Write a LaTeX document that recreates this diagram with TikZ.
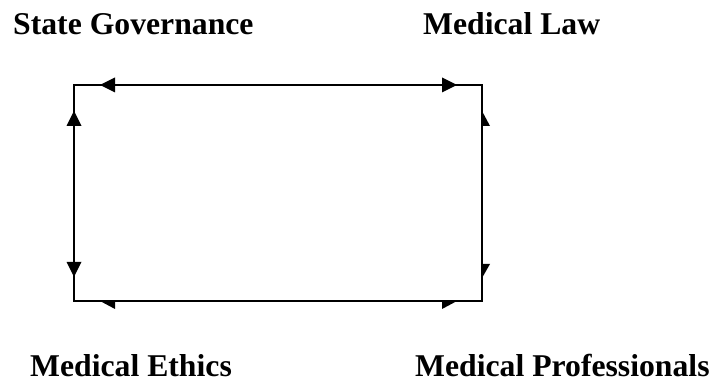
\documentclass[tikz,border=0pt]{standalone}
\usepackage{fontspec}
\setmainfont{Liberation Serif}
\begin{document}
\begin{tikzpicture}[x=1pt,y=1pt,
  lbl/.style={anchor=base west, inner sep=0pt, font=\fontsize{31.7}{36}\selectfont\bfseries},
  edge/.style={line width=2pt, line join=miter},
  head/.style={fill=black}]
\useasboundingbox (0,0) rectangle (713,383);
\node[lbl] (sg) at (13,348) {State Governance};
\node[lbl] (ml) at (423,348) {Medical Law};
\node[lbl] (me) at (30,6) {Medical Ethics};
\node[lbl] (mp) at (415,6) {Medical Professionals};
\coordinate (tl) at (74,298);
\coordinate (tr) at (482,298);
\coordinate (bl) at (74,82);
\coordinate (br) at (482,82);
\draw[edge] (tl) -- (tr) -- (br) -- (bl) -- cycle;
% top arrows
\fill[head, shift={(tl)}] (26,0) -- (41,7.5) -- (41,-7.5) -- cycle;
\fill[head, shift={(tr)}] (-25,0) -- (-40,7.5) -- (-40,-7.5) -- cycle;
% left arrows
\fill[head, shift={(tl)}] (0,-26) -- (-7.5,-41) -- (7.5,-41) -- cycle;
\fill[head, shift={(bl)}] (0,24) -- (-7.5,39) -- (7.5,39) -- cycle;
% right half arrows
\fill[head, shift={(tr)}] (0,-26) -- (8,-41) -- (0,-41) -- cycle;
\fill[head, shift={(br)}] (0,23) -- (8,37) -- (0,37) -- cycle;
% bottom half arrows
\fill[head, shift={(bl)}] (26,0) -- (41,-8) -- (41,0) -- cycle;
\fill[head, shift={(br)}] (-25,0) -- (-40,-8) -- (-40,0) -- cycle;
\end{tikzpicture}
\end{document}
